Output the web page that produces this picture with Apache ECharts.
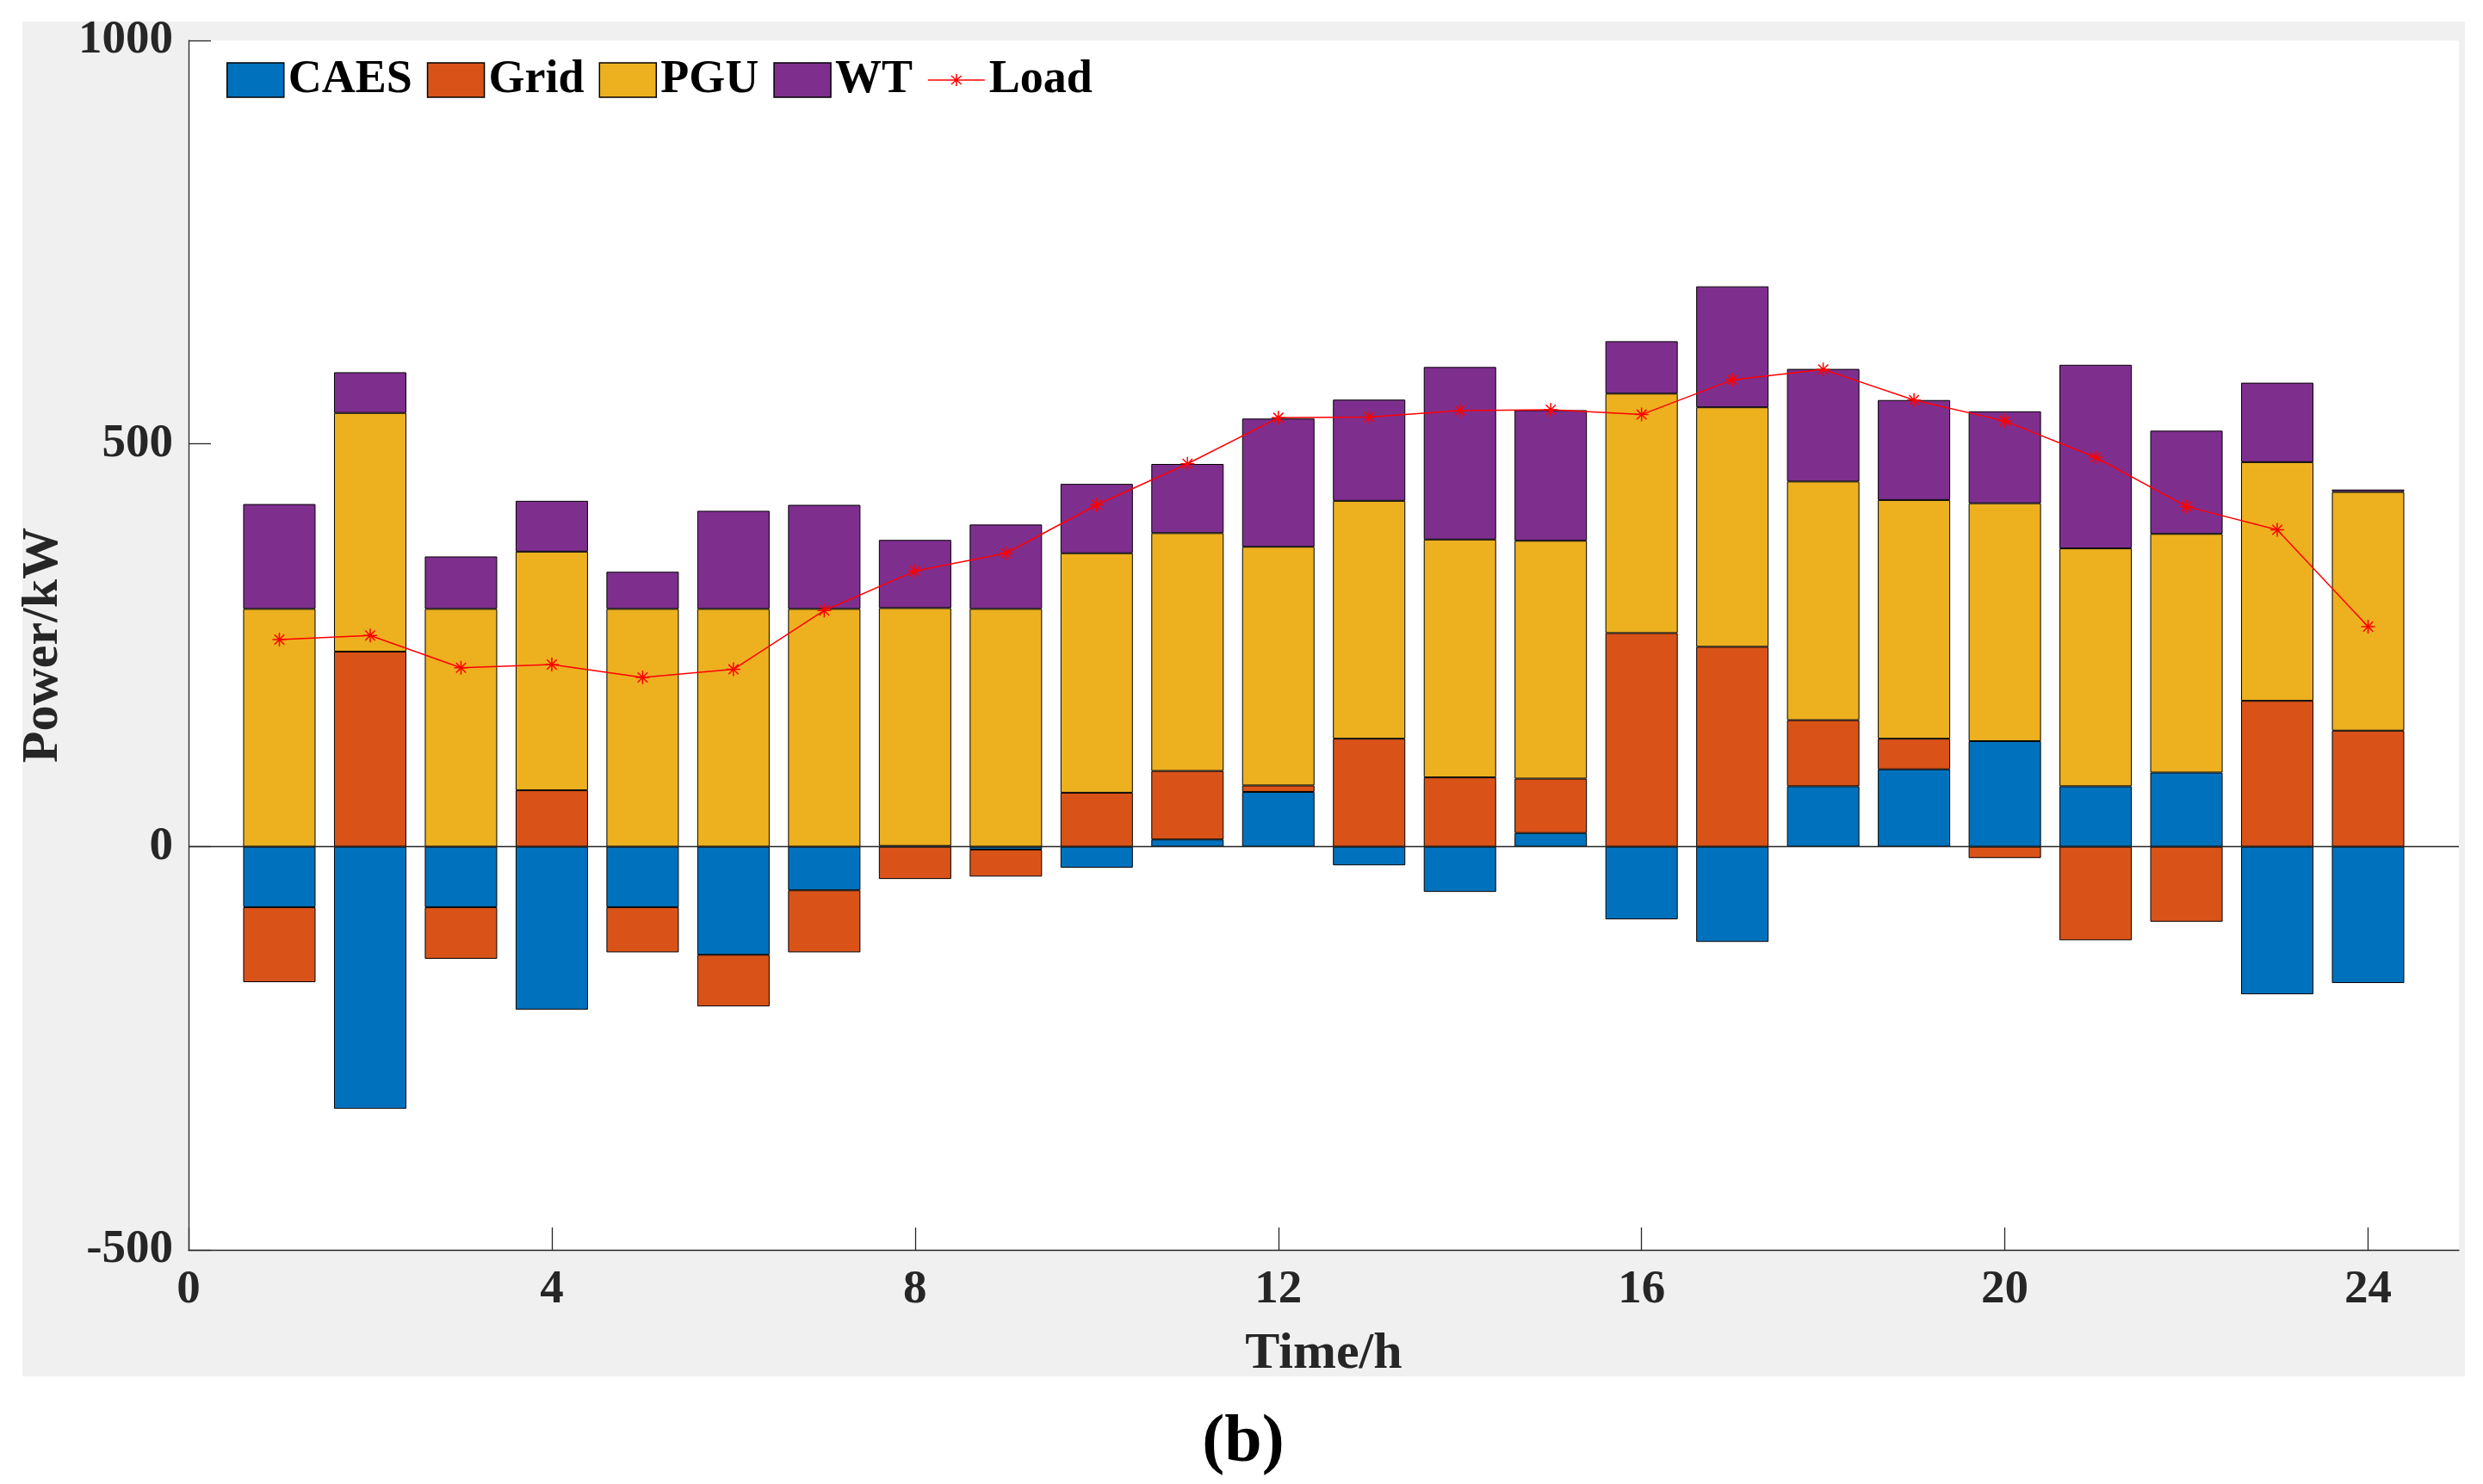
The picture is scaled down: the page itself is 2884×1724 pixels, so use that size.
<!DOCTYPE html>
<html>
<head>
<meta charset="utf-8">
<script src="https://cdn.jsdelivr.net/npm/echarts@6/dist/echarts.min.js"></script>
<style>
html,body{margin:0;padding:0;background:#fff;}
#bg{position:absolute;left:26px;top:25px;width:2837px;height:1574px;background:#f0f0f0;}
#chart{position:absolute;left:0;top:0;width:2884px;height:1724px;}
</style>
</head>
<body>
<div id="bg"></div>
<div id="chart"></div>
<script>
const hours = [1,2,3,4,5,6,7,8,9,10,11,12,13,14,15,16,17,18,19,20,21,22,23,24];
const CAES = [-75,-325,-75,-202,-75,-134,-54,1,-3.5,-26,9,68,-23,-56,17,-90,-118,75,96,131,75,92,-183,-169];
const Grid = [-93,242,-64,70,-56,-64,-77,-40,-33.5,67,85,8,134,86,67.5,265,248,82,38,-14,-116,-93,181,144];
const PGU  = [295,296,295,296,295,295,295,295,295,297,295,296,295,295,295,297,297,296,296,295,295,296,296,296];
const WT   = [130,50.5,65,63,46,121.6,129,84.5,104.6,86,85.7,159,125.5,214,162,65,150,139.6,124,114,227.7,128,98.5,3];
const Load = [257,262,222,226,210,220,293,342,364,424,475,532,533,541,542,536,579,592,554,528,483,422,393,273];
const xTicks = [0,4,8,12,16,20,24];
const yTicks = [-500,0,500,1000];

const FONT = '"Liberation Serif", "Times New Roman", serif';
const AX = '#262626';
// value first, hour second -> stacking happens on the value dimension
const pairsVX = arr => hours.map((h,i)=>[arr[i], h]);

function barSeries(name, arr, color, extra){
  return Object.assign({
    name: name, type: 'bar', stack: 'all', barWidth: 84,
    data: pairsVX(arr),
    encode: {x: 1, y: 0},
    itemStyle: {color: color, borderColor: '#000', borderWidth: 1},
    emphasis: {disabled: true}
  }, extra || {});
}

const chart = echarts.init(document.getElementById('chart'), null, {renderer: 'canvas'});
chart.setOption({
  animation: false,
  backgroundColor: 'transparent',
  textStyle: {fontFamily: FONT},
  grid: {left: 219, right: 28, top: 47, bottom: 272, show: true, backgroundColor: '#fff', borderWidth: 0},
  legend: {
    left: 263, top: 66, padding: 0, itemGap: 17, itemWidth: 66, itemHeight: 40,
    symbolKeepAspect: true,
    textStyle: {fontFamily: FONT, fontSize: 54, fontWeight: 'bold', color: '#000'},
    itemStyle: {borderColor: '#000', borderWidth: 1.5},
    data: [
      {name: 'CAES', icon: 'rect'},
      {name: 'Grid', icon: 'rect'},
      {name: 'PGU', icon: 'rect'},
      {name: 'WT', icon: 'rect'},
      {name: 'Load', icon: 'path://M0,7L66,7M33,0L33,14M27,2L39,12M27,12L39,2',
       itemStyle: {color: '#ff0000', borderColor: '#ff0000', borderWidth: 1.5}}
    ]
  },
  xAxis: {
    type: 'value', min: 0, max: 25,
    axisLine: {show: true, onZero: false, lineStyle: {color: AX, width: 1.3}},
    axisTick: {show: true, inside: true, length: 26, customValues: xTicks, lineStyle: {color: AX, width: 1.3}},
    axisLabel: {customValues: xTicks, margin: 19, fontFamily: FONT, fontSize: 55, fontWeight: 'bold', color: AX,
      formatter: v => String(v)},
    splitLine: {show: false},
    name: 'Time/h', nameLocation: 'middle', nameGap: 91,
    nameTextStyle: {fontFamily: FONT, fontSize: 60, fontWeight: 'bold', color: AX}
  },
  yAxis: {
    type: 'value', min: -500, max: 1000, interval: 500,
    axisLine: {show: true, lineStyle: {color: AX, width: 1.3}},
    axisTick: {show: true, inside: true, length: 26, lineStyle: {color: AX, width: 1.3}},
    axisLabel: {margin: 18, fontFamily: FONT, fontSize: 55, fontWeight: 'bold', color: AX,
      formatter: v => String(v)},
    splitLine: {show: false},
    name: 'Power/kW', nameLocation: 'middle', nameGap: 132, nameRotate: 90,
    nameTextStyle: {fontFamily: FONT, fontSize: 60, fontWeight: 'bold', color: AX}
  },
  graphic: [{
    type: 'text', x: 1444, y: 1677,
    style: {text: '(b)', fill: '#000', fontFamily: FONT, fontSize: 78, fontWeight: 'bold',
            align: 'center', verticalAlign: 'middle', textAlign: 'center', textVerticalAlign: 'middle'}
  }],
  series: [
    barSeries('CAES', CAES, '#0072BD', {
      markLine: {silent: true, symbol: ['none','none'], label: {show: false},
        lineStyle: {color: AX, width: 1.3, type: 'solid'}, emphasis: {disabled: true},
        data: [{yAxis: 0}]}
    }),
    barSeries('Grid', Grid, '#D95319'),
    barSeries('PGU', PGU, '#EDB120'),
    barSeries('WT', WT, '#7E2F8E'),
    {
      name: 'Load', type: 'line', data: hours.map((h,i)=>[h, Load[i]]), z: 5,
      symbol: 'path://M7,0L7,14M0,7L14,7M2,2L12,12M2,12L12,2', symbolSize: 16,
      showAllSymbol: true,
      lineStyle: {color: '#ff0000', width: 1.5},
      itemStyle: {color: '#ff0000', borderColor: '#ff0000', borderWidth: 1.5},
      emphasis: {disabled: true}
    }
  ]
});
</script>
</body>
</html>
